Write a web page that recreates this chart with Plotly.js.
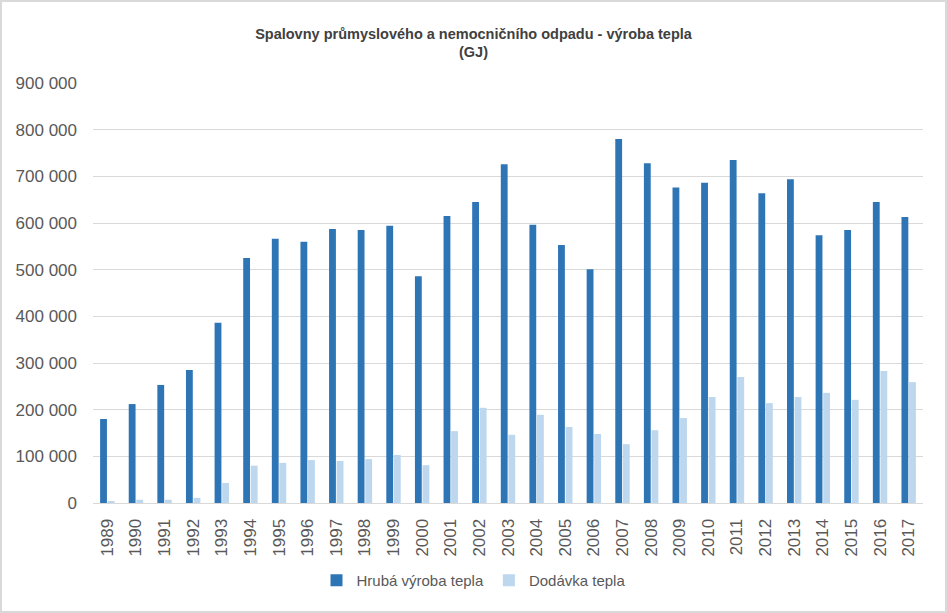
<!DOCTYPE html>
<html>
<head>
<meta charset="utf-8">
<script src="https://cdn.plot.ly/plotly-3.0.1.min.js"></script>
<style>
    body { margin: 0; background: #fff; }
    #chart { width: 947px; height: 613px; box-sizing: border-box; border: 2px solid #d9d9d9; }
</style>
</head>
<body>
<div id="chart"></div>
<script>
var years = ['1989', '1990', '1991', '1992', '1993', '1994', '1995', '1996', '1997', '1998',
    '1999', '2000', '2001', '2002', '2003', '2004', '2005', '2006', '2007', '2008',
    '2009', '2010', '2011', '2012', '2013', '2014', '2015', '2016', '2017'];

var hrubaVyroba = [180000, 212000, 253000, 285000, 386000, 525000, 566000, 560000, 587000, 585000,
    594000, 486000, 615000, 645000, 726000, 596000, 553000, 501000, 780000, 728000,
    676000, 686000, 735000, 664000, 694000, 574000, 585000, 645000, 613000];

var dodavka = [3000, 7000, 7000, 11000, 43000, 80000, 86000, 92000, 90000, 94000,
    103000, 81000, 154000, 204000, 146000, 189000, 163000, 148000, 126000, 156000,
    182000, 227000, 270000, 214000, 227000, 236000, 221000, 283000, 259000];

var yTicks = [0, 100000, 200000, 300000, 400000, 500000, 600000, 700000, 800000, 900000];

function drawChart() {
    var trace1 = {
        x: years,
        y: hrubaVyroba,
        type: 'bar',
        name: 'Hrubá výroba tepla',
        marker: { color: '#2e75b6' },
        hoverinfo: 'x+y'
    };

    var trace2 = {
        x: years,
        y: dodavka,
        type: 'bar',
        name: 'Dodávka tepla',
        marker: { color: '#bdd7ee' },
        hoverinfo: 'x+y'
    };

    var layout = {
        width: 943,
        height: 609,
        margin: { l: 91, r: 22, t: 81, b: 108 },
        paper_bgcolor: '#ffffff',
        plot_bgcolor: '#ffffff',
        separators: ', ',
        font: { family: 'Liberation Sans, Arial, sans-serif', color: '#595959' },
        title: {
            text: 'Spalovny průmyslového a nemocničního odpadu - výroba tepla<br>(GJ)',
            font: { size: 14.5, weight: 'bold', color: '#404040' },
            x: 0.5,
            xref: 'container',
            y: 0.94,
            yref: 'container',
            yanchor: 'middle'
        },
        barmode: 'group',
        bargap: 0.47,
        bargroupgap: 0.1,
        xaxis: {
            type: 'category',
            tickangle: -90,
            tickfont: { size: 17, color: '#595959' },
            showgrid: false,
            showline: true,
            linecolor: '#d9d9d9',
            linewidth: 1,
            ticks: '',
            ticklabelstandoff: 8
        },
        yaxis: {
            range: [0, 900000],
            tickvals: yTicks,
            tickformat: ',d',
            tickfont: { size: 17, color: '#595959' },
            gridcolor: '#d9d9d9',
            gridwidth: 1,
            zeroline: false,
            showline: false,
            ticks: '',
            ticklabelstandoff: 15
        },
        legend: {
            orientation: 'h',
            xref: 'container',
            x: 0.5,
            xanchor: 'center',
            yref: 'container',
            y: 0.05,
            yanchor: 'middle',
            font: { size: 15, color: '#595959' },
            traceorder: 'normal'
        },
        showlegend: true
    };

    Plotly.newPlot('chart', [trace1, trace2], layout, { displayModeBar: false });
}

drawChart();
</script>
</body>
</html>
